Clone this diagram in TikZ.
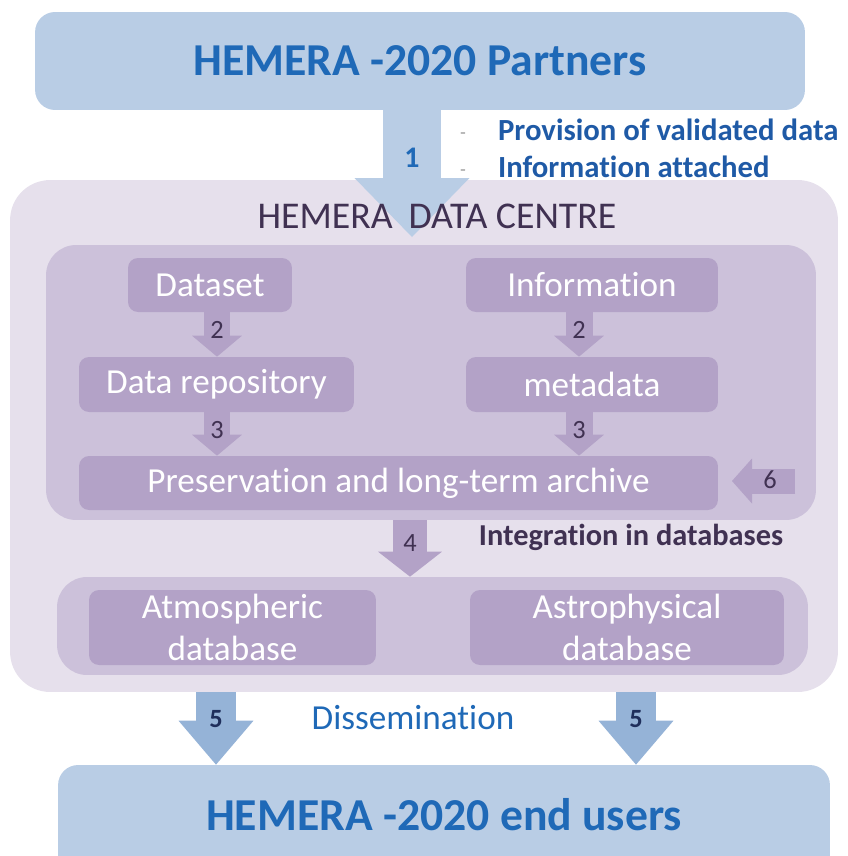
\documentclass[tikz,border=0pt]{standalone}
\usepackage{fontspec}
\setmainfont{Carlito}[Ligatures=NoCommon]
\usepackage{tikz}
\usetikzlibrary{arrows.meta}
\usetikzlibrary{positioning}
\definecolor{boxblue}{HTML}{B9CDE5}
\definecolor{arrowblue}{HTML}{95B3D7}
\definecolor{titleblue}{HTML}{1F69B7}
\definecolor{listblue}{HTML}{1F5AA6}
\definecolor{navy}{HTML}{1F2F5C}
\definecolor{centrefill}{HTML}{E6E0EC}
\definecolor{groupfill}{HTML}{CCC1DA}
\definecolor{stepfill}{HTML}{B3A2C7}
\definecolor{darkpurple}{HTML}{403152}
\tikzset{bluebox/.style = {fill=boxblue, rounded corners=0.4cm, inner sep=0, text=titleblue, font=\bfseries\fontsize{26}{30}\selectfont}}
\tikzset{groupbox/.style = {fill=groupfill, rounded corners=0.6cm, inner sep=0}}
\tikzset{stepbox/.style = {fill=stepfill, rounded corners=0.2cm, inner sep=0, text=white, align=center, font=\fontsize{20}{24}\selectfont}}
\tikzset{blockarrow/.style n args = {4}{draw=#1, line width=#2, -{Triangle[length=#3, width=#4, line width=0pt]}}}
\tikzset{num/.style = {inner sep=0, text=darkpurple, font=\fontsize{15}{18}\selectfont}}
\newcommand{\listdash}{\makebox[21.5pt][l]{\raisebox{1pt}{\color{gray!60}\fontsize{10}{12}\selectfont -}}}

\begin{document}
\begin{tikzpicture}[x=0.02cm, y=-0.02cm]
            \useasboundingbox (0,0) rectangle (848,856);
            \clip (0,0) rectangle (848,856);
            \node [bluebox, minimum width=15.4cm, minimum height=1.96cm] (partners) at (420,61) {HEMERA -2020 Partners};
            \node [bluebox, text height=1.3cm, text depth=1.4cm, minimum width=15.44cm] (users) at (444,832.5) {HEMERA -2020 end users};
            \node [fill=centrefill, rounded corners=0.8cm, minimum width=16.56cm, minimum height=10.24cm] (centre) at (424,436) {};
            \coordinate (tip1) at (412,237);
            \draw [blockarrow={boxblue}{1.18cm}{1.18cm}{2.3cm}] (partners.south -| tip1) -- (tip1);
            \node [num, text=titleblue, font=\bfseries\fontsize{17}{20}\selectfont] (n1) at (412,158) {1};
            \node [anchor=west, inner sep=0, text=listblue, font=\bfseries\fontsize{17.5}{21}\selectfont] (prov) at (460,130) {\listdash Provision of validated data};
            \node [anchor=west, inner sep=0, text=listblue, font=\bfseries\fontsize{17.5}{21}\selectfont] (info) at (460,167) {\listdash Information attached};
            \node [text=darkpurple, font=\fontsize{21.5}{26}\selectfont] (dctitle) at (437,216) {HEMERA\hspace{9pt}DATA CENTRE};
            \node [groupbox, minimum width=15.4cm, minimum height=5.5cm] (store) at (431,382.5) {};
            \node [stepbox, minimum width=3.28cm, minimum height=1.08cm] (dataset) at (210,285) {Dataset};
            \node [stepbox, minimum width=5.04cm, minimum height=1.08cm] (information) at (592,285) {Information};
            \node [stepbox, minimum width=5.5cm, minimum height=1.1cm] (repo) at (216.5,384.5) {Data repository};
            \node [stepbox, minimum width=5.04cm, minimum height=1.1cm] (metadata) at (592,384.5) {metadata};
            \node [stepbox, minimum width=12.78cm, minimum height=1.08cm] (archive) at (398.5,483) {Preservation and long-term archive};
            \node [groupbox, minimum width=15.02cm, minimum height=1.96cm] (dbs) at (432.5,626) {};
            \node [stepbox, minimum width=5.74cm, minimum height=1.5cm] (atmos) at (232.5,627.5) {Atmospheric\\database};
            \node [stepbox, minimum width=6.28cm, minimum height=1.5cm] (astro) at (627,627.5) {Astrophysical\\database};
            \coordinate (lcol) at (217,0);
            \coordinate (rcol) at (579,0);
            \coordinate (mcol) at (410,0);
            \draw [blockarrow={stepfill}{0.54cm}{0.42cm}{1cm}] (dataset.south -| lcol) -- (repo.north -| lcol);
            \draw [blockarrow={stepfill}{0.54cm}{0.42cm}{1cm}] (information.south -| rcol) -- (metadata.north -| rcol);
            \draw [blockarrow={stepfill}{0.54cm}{0.42cm}{1cm}] (repo.south -| lcol) -- (archive.north -| lcol);
            \draw [blockarrow={stepfill}{0.54cm}{0.42cm}{1cm}] (metadata.south -| rcol) -- (archive.north -| rcol);
            \node [num] (n2a) at (217,330) {2};
            \node [num] (n2b) at (579,330) {2};
            \node [num] (n3a) at (217,430) {3};
            \node [num] (n3b) at (579,430) {3};
            \coordinate (back) at (795,481);
            \coordinate (tip6) at (732,481);
            \draw [blockarrow={stepfill}{0.5cm}{0.4cm}{0.9cm}] (back) -- (tip6);
            \node [num] (n6) at (770,480) {6};
            \draw [blockarrow={stepfill}{0.68cm}{0.5cm}{1.28cm}] (store.south -| mcol) -- (dbs.north -| mcol);
            \node [num] (n4) at (410,543) {4};
            \node [text=darkpurple, font=\bfseries\fontsize{17.3}{21}\selectfont] (integ) at (631,537) {Integration in databases};
            \coordinate (lout) at (216,0);
            \coordinate (rout) at (636,0);
            \draw [blockarrow={arrowblue}{0.8cm}{0.88cm}{1.5cm}] (centre.south -| lout) -- (users.north -| lout);
            \draw [blockarrow={arrowblue}{0.8cm}{0.88cm}{1.5cm}] (centre.south -| rout) -- (users.north -| rout);
            \node [num, text=navy, font=\bfseries\fontsize{15}{18}\selectfont] (n5a) at (216,719) {5};
            \node [num, text=navy, font=\bfseries\fontsize{15}{18}\selectfont] (n5b) at (636,719) {5};
            \node [text=titleblue, font=\fontsize{20}{24}\selectfont] (dissem) at (413,718) {Dissemination};
        \end{tikzpicture}
\end{document}
